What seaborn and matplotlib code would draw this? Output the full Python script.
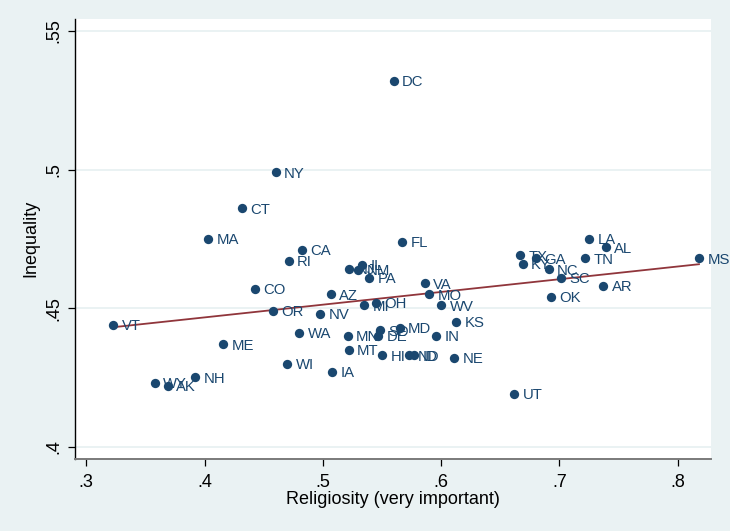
import matplotlib
matplotlib.use("Agg")
import matplotlib.pyplot as plt
import seaborn as sns
import pandas as pd

# State-level religiosity (share saying religion is very important) and income inequality
states = ["DC", "NY", "CT", "MA", "CA", "RI", "FL", "IL", "NM", "NJ",
          "PA", "VA", "MO", "AZ", "CO", "OR", "NV", "MI", "OH", "WV",
          "KS", "MD", "SD", "DE", "MN", "MT", "HI", "ND", "ID", "IN",
          "NE", "IA", "WI", "WA", "ME", "VT", "NH", "WY", "AK", "UT",
          "MS", "LA", "AL", "TN", "TX", "KY", "GA", "NC", "SC", "AR", "OK"]
religiosity = [0.560, 0.460, 0.432, 0.403, 0.482, 0.471, 0.567, 0.533, 0.530, 0.522,
               0.539, 0.586, 0.590, 0.507, 0.443, 0.458, 0.498, 0.535, 0.545, 0.600,
               0.613, 0.565, 0.548, 0.547, 0.521, 0.522, 0.550, 0.573, 0.577, 0.596,
               0.611, 0.508, 0.470, 0.480, 0.416, 0.323, 0.392, 0.358, 0.369, 0.662,
               0.818, 0.725, 0.739, 0.722, 0.667, 0.669, 0.680, 0.691, 0.701, 0.737, 0.693]
inequality = [0.532, 0.499, 0.486, 0.475, 0.471, 0.467, 0.474, 0.4656, 0.4639, 0.4641,
              0.461, 0.459, 0.455, 0.455, 0.457, 0.449, 0.448, 0.451, 0.452, 0.451,
              0.445, 0.443, 0.442, 0.440, 0.440, 0.435, 0.433, 0.433, 0.433, 0.440,
              0.432, 0.427, 0.430, 0.441, 0.437, 0.444, 0.425, 0.423, 0.422, 0.419,
              0.468, 0.475, 0.472, 0.468, 0.469, 0.466, 0.468, 0.464, 0.461, 0.458, 0.454]

x_ticks = [0.3, 0.4, 0.5, 0.6, 0.7, 0.8]
x_tick_labels = [".3", ".4", ".5", ".6", ".7", ".8"]
y_ticks = [0.40, 0.45, 0.50, 0.55]
y_tick_labels = [".4", ".45", ".5", ".55"]

df = pd.DataFrame({"state": states, "rel": religiosity, "ineq": inequality})

navy = "#1A476F"
maroon = "#90353B"
bg = "#EAF2F3"

plt.rcParams["font.family"] = ["Liberation Sans", "DejaVu Sans"]

fig = plt.figure(figsize=(7.3, 5.31), dpi=100, facecolor=bg)
ax = fig.add_axes([0.1023, 0.1362, 0.974 - 0.1023, 0.9642 - 0.1362])
ax.set_facecolor("white")

# light horizontal grid at the y ticks
for yv in y_ticks:
    ax.axhline(yv, color=bg, lw=1.4, zorder=0)

sns.scatterplot(data=df, x="rel", y="ineq", ax=ax, color=navy, s=45,
                edgecolor=navy, linewidth=0, zorder=3, legend=False)
for _, r in df.iterrows():
    ax.annotate(r["state"], (r["rel"], r["ineq"]), xytext=(6, -1),
                textcoords="offset points", va="center", ha="left",
                color=navy, fontsize=10.7, zorder=4)

# linear fit across the observed range
sns.regplot(data=df, x="rel", y="ineq", ax=ax, scatter=False, ci=None,
            truncate=True, line_kws={"color": maroon, "lw": 1.3, "zorder": 2})

ax.set_xlim(0.2902, 0.8282)
ax.set_ylim(0.3957, 0.5543)
ax.set_xticks(x_ticks)
ax.set_xticklabels(x_tick_labels)
ax.set_yticks(y_ticks)
ax.set_yticklabels(y_tick_labels, rotation=90, va="center")
ax.tick_params(axis="both", length=5, width=0.9, color="black", labelsize=13,
               pad=4)
ax.tick_params(axis="x", pad=6)

for side in ["top", "right"]:
    ax.spines[side].set_visible(False)
ax.spines["left"].set_color("black")
ax.spines["left"].set_linewidth(1.0)
ax.spines["bottom"].set_color("#7a7a7a")
ax.spines["bottom"].set_linewidth(1.4)

ax.set_xlabel("Religiosity (very important)", fontsize=13, labelpad=0)
ax.set_ylabel("Inequality", fontsize=13, labelpad=4)

fig.savefig("out.png", dpi=100, facecolor=bg)
